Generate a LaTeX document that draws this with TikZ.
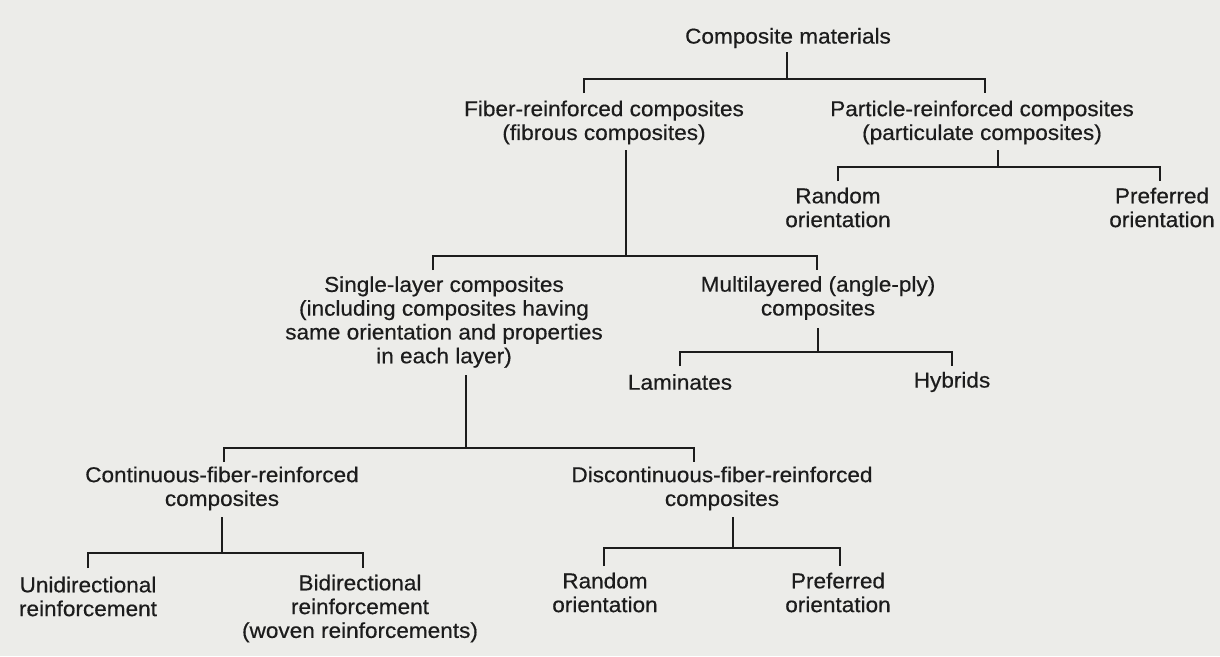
\documentclass[tikz,border=0pt]{standalone}
\usepackage{fontspec}
\setmainfont[FakeStretch=1.05,RawFeature={embolden=0.5}]{Liberation Sans}
\definecolor{paper}{RGB}{236,236,233}
\definecolor{ink}{RGB}{28,28,28}
\begin{document}
\begin{tikzpicture}[x=1pt,y=-1pt,
  lbl/.style={font=\fontsize{21.5}{23.8}\selectfont, text=ink, align=center, inner sep=0pt},
  conn/.style={draw=ink, line width=2.4pt, line cap=butt, line join=miter}]
\fill[paper] (0,0) rectangle (1220,656);
\useasboundingbox (0,0) rectangle (1220,656);

% nodes
\node[lbl] (cm) at (788,38) {Composite materials};
\node[lbl] (fib) at (604,122.5) {Fiber-reinforced composites\\(fibrous composites)};
\node[lbl] (part) at (982,122.5) {Particle-reinforced composites\\(particulate composites)};
\node[lbl] (rand1) at (838,207.5) {Random\\orientation};
\node[lbl] (pref1) at (1162,207.5) {Preferred\\orientation};
\node[lbl] (single) at (444,322) {Single-layer composites\\(including composites having\\same orientation and properties\\in each layer)};
\node[lbl] (multi) at (818,298) {Multilayered (angle-ply)\\composites};
\node[lbl] (lam) at (680,382) {Laminates};
\node[lbl] (hyb) at (952,382) {Hybrids};
\node[lbl] (cont) at (222,488.5) {Continuous-fiber-reinforced\\composites};
\node[lbl] (disc) at (722,488.5) {Discontinuous-fiber-reinforced\\composites};
\node[lbl] (uni) at (88,596.5) {Unidirectional\\reinforcement};
\node[lbl] (bi) at (360,608.5) {Bidirectional\\reinforcement\\(woven reinforcements)};
\node[lbl] (rand2) at (605,592.5) {Random\\orientation};
\node[lbl] (pref2) at (838,592.5) {Preferred\\orientation};

% bracket 1
\coordinate (p1) at (787,52); \coordinate (j1) at (787,79);
\coordinate (a1) at (584,93); \coordinate (b1) at (985,93);
\draw[conn] (p1) -- (j1);
\draw[conn] (a1) |- (j1) -| (b1);
% bracket 2
\coordinate (p2) at (998,150); \coordinate (j2) at (998,167);
\coordinate (a2) at (838,181); \coordinate (b2) at (1160,181);
\draw[conn] (p2) -- (j2);
\draw[conn] (a2) |- (j2) -| (b2);
% bracket 3
\coordinate (p3) at (626,150); \coordinate (j3) at (626,256);
\coordinate (a3) at (433,270); \coordinate (b3) at (817,270);
\draw[conn] (p3) -- (j3);
\draw[conn] (a3) |- (j3) -| (b3);
% bracket 4
\coordinate (p4) at (818,328); \coordinate (j4) at (818,352);
\coordinate (a4) at (680,366); \coordinate (b4) at (952,366);
\draw[conn] (p4) -- (j4);
\draw[conn] (a4) |- (j4) -| (b4);
% bracket 5
\coordinate (p5) at (466,375); \coordinate (j5) at (466,448);
\coordinate (a5) at (224,462); \coordinate (b5) at (694,462);
\draw[conn] (p5) -- (j5);
\draw[conn] (a5) |- (j5) -| (b5);
% bracket 6
\coordinate (p6) at (222,517); \coordinate (j6) at (222,553);
\coordinate (a6) at (88,568); \coordinate (b6) at (363,568);
\draw[conn] (p6) -- (j6);
\draw[conn] (a6) |- (j6) -| (b6);
% bracket 7
\coordinate (p7) at (733,517); \coordinate (j7) at (733,548);
\coordinate (a7) at (604,566); \coordinate (b7) at (840,566);
\draw[conn] (p7) -- (j7);
\draw[conn] (a7) |- (j7) -| (b7);
\end{tikzpicture}
\end{document}
